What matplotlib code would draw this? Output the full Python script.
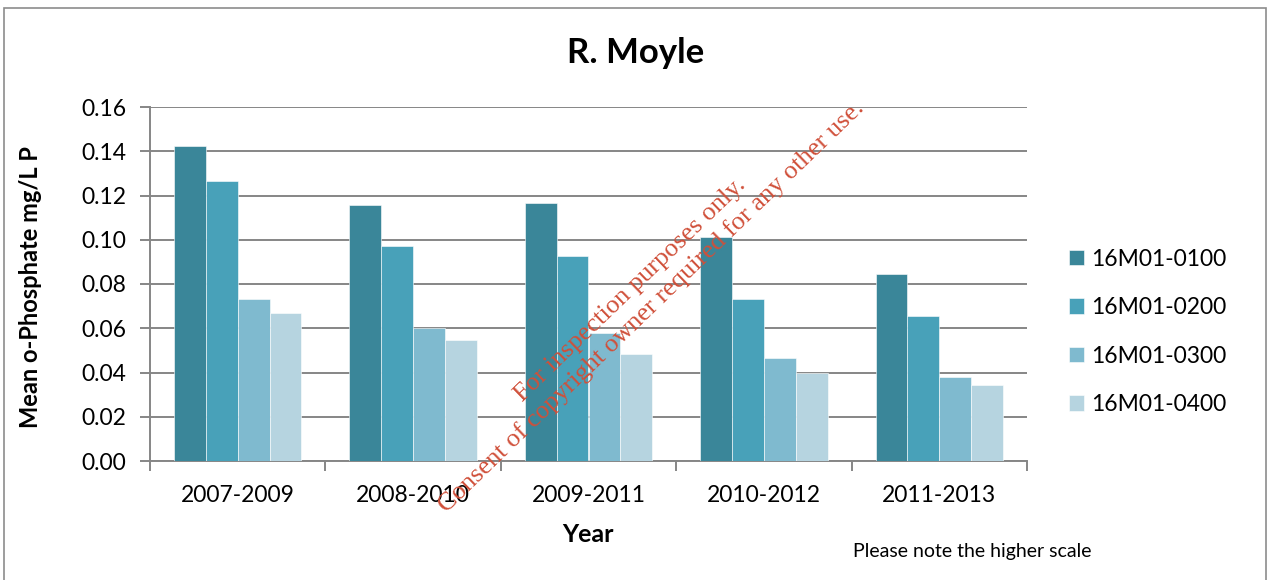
import matplotlib
matplotlib.use("Agg")
import matplotlib.pyplot as plt
from matplotlib.patches import Rectangle
import numpy as np

# Data
periods = ["2007-2009", "2008-2010", "2009-2011", "2010-2012", "2011-2013"]
stations = ["16M01-0100", "16M01-0200", "16M01-0300", "16M01-0400"]
st_0100 = [0.1425, 0.1158, 0.1165, 0.1014, 0.0847]
st_0200 = [0.1266, 0.0972, 0.0925, 0.0732, 0.0654]
st_0300 = [0.0732, 0.0599, 0.0577, 0.0466, 0.0380]
st_0400 = [0.0669, 0.0548, 0.0483, 0.0396, 0.0343]
yticks = [0.00, 0.02, 0.04, 0.06, 0.08, 0.10, 0.12, 0.14, 0.16]

colors = ["#3a8699", "#48a1b9", "#7fbacf", "#b6d4e0"]
grid_col = "#868686"

plt.rcParams["font.family"] = ["Lato", "DejaVu Sans"]

W, H = 1268, 580
fig = plt.figure(figsize=(W / 100, H / 100), dpi=100)
ax = fig.add_axes([150 / W, 1 - 461 / H, 877 / W, 354 / H])

x = np.arange(len(periods))
bw = 0.1816
series = [st_0100, st_0200, st_0300, st_0400]
for i, (vals, lab, c) in enumerate(zip(series, stations, colors)):
    ax.bar(x + (i - 1.5) * bw, vals, width=bw, color=c, label=lab,
           edgecolor="white", linewidth=0.4, zorder=3)

ax.set_xlim(-0.5, 4.5)
ax.set_ylim(0, 0.16)
ax.set_yticks(yticks)
ax.set_yticklabels([f"{v:.2f}" for v in yticks], fontsize=16.5)
ax.yaxis.grid(True, color=grid_col, linewidth=1.4, zorder=0)
ax.set_axisbelow(True)

# category labels centred, ticks on boundaries
ax.set_xticks(x)
ax.set_xticklabels(periods, fontsize=16.5)
ax.tick_params(axis="x", length=0, pad=17)
ax.set_xticks(np.arange(-0.5, 5.0, 1.0), minor=True)
ax.tick_params(axis="x", which="minor", length=7, width=1.4, color=grid_col)
ax.tick_params(axis="y", length=7, width=1.4, color=grid_col, pad=10)

for s in ["top", "right"]:
    ax.spines[s].set_visible(False)
for s in ["left", "bottom"]:
    ax.spines[s].set_color(grid_col)
    ax.spines[s].set_linewidth(1.4)

# axis titles and chart title
fig.text(31 / W, 1 - 287 / H, "Mean o-Phosphate mg/L P", fontsize=17,
         fontweight="bold", rotation=90, ha="center", va="center")
fig.text(588 / W, 1 - 535 / H, "Year", fontsize=18, fontweight="bold",
         ha="center", va="center")
fig.text(636 / W, 1 - 53 / H, "R. Moyle", fontsize=25, fontweight="bold",
         ha="center", va="center")

fig.legend(loc="upper left", bbox_to_anchor=(1048 / W, 1 - 228 / H),
           frameon=False, fontsize=16.5, handlelength=0.65, handleheight=0.65,
           handletextpad=0.35, labelspacing=1.2)

fig.text(853 / W, 1 - 552 / H, "Please note the higher scale", fontsize=14,
         ha="left", va="center")

# watermark
wm = "#d0503a"
fig.text(630 / W, 1 - 290 / H, "For inspection purposes only.",
         family="Liberation Serif", fontsize=19, color=wm, rotation=44,
         rotation_mode="anchor", ha="center", va="center")
fig.text(651 / W, 1 - 307 / H, "Consent of copyright owner required for any other use.",
         family="Liberation Serif", fontsize=19, color=wm, rotation=44,
         rotation_mode="anchor", ha="center", va="center")

# outer chart border
fig.patches.append(Rectangle((4 / W, -0.01), (1266 - 4) / W, 1 - 8 / H + 0.01,
                             transform=fig.transFigure, fill=False,
                             edgecolor="#8c8c8c", linewidth=1.2))

fig.savefig("out.png", dpi=100, facecolor="white")
